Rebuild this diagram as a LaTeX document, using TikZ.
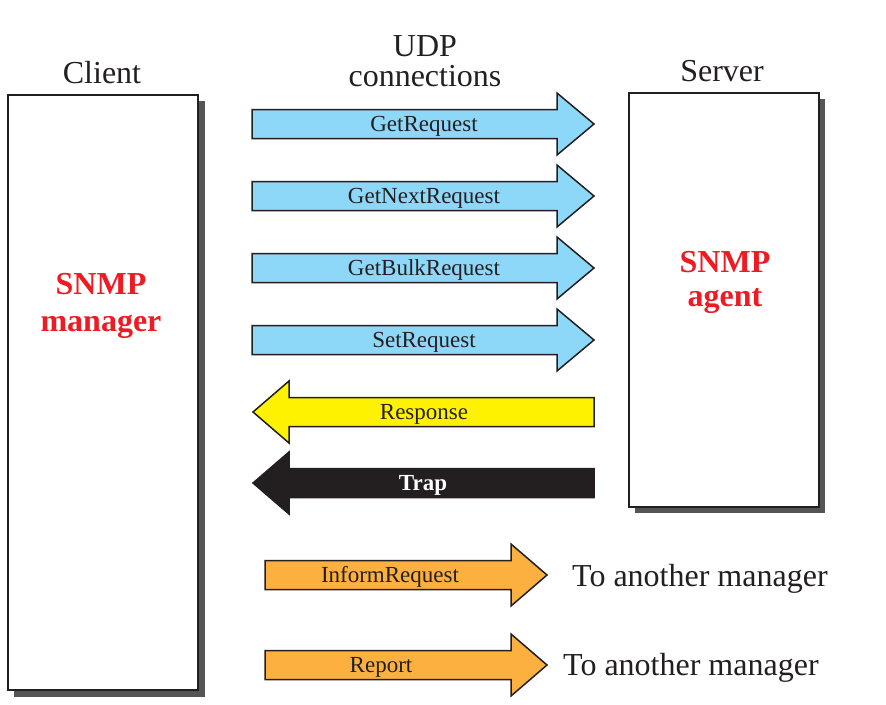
\documentclass[tikz,border=0pt]{standalone}
\usepackage{fontspec}
\setmainfont{Liberation Serif}
\definecolor{ink}{HTML}{231F20}
\definecolor{sky}{HTML}{8DD8F8}
\definecolor{lemon}{HTML}{FFF200}
\definecolor{amber}{HTML}{FBB040}
\definecolor{shadowgray}{HTML}{555555}
\definecolor{snmpred}{HTML}{ED1C24}
\newcommand{\rightarr}[5]{%
  \draw[arrowline, fill=#5] (#1,#4-14.5) -- (#2,#4-14.5) -- (#2,#4-31) -- (#3,#4)
    -- (#2,#4+31) -- (#2,#4+14.5) -- (#1,#4+14.5) -- cycle;}
\newcommand{\leftarr}[5]{%
  \draw[arrowline, fill=#5] (#1,#4-14.5) -- (#2,#4-14.5) -- (#2,#4-31) -- (#3,#4)
    -- (#2,#4+31) -- (#2,#4+14.5) -- (#1,#4+14.5) -- cycle;}
\begin{document}
\begin{tikzpicture}[x=1pt,y=-1pt,line join=miter,
  arrowline/.style={draw=ink, line width=1.5pt},
  dropshadow/.style={fill=shadowgray, draw=none},
  hostbox/.style={draw=ink, line width=2pt, fill=white, inner sep=0pt, outer sep=0pt, anchor=north west},
  bigtext/.style={font=\fontsize{32}{36}\selectfont, text=ink, inner sep=0pt, anchor=base},
  redtext/.style={font=\fontsize{32}{36}\selectfont\bfseries, text=snmpred, inner sep=0pt, anchor=base},
  lbl/.style={font=\fontsize{23}{26}\selectfont, text=ink, inner sep=0pt, anchor=base}]
\useasboundingbox (0,0) rectangle (886,704);
% client box
\path[dropshadow] (14,101) rectangle (205,697);
\node[hostbox, minimum width=190pt, minimum height=595pt] (client) at (8,95) {};
% server box
\path[dropshadow] (635,99) rectangle (825,513);
\node[hostbox, minimum width=190pt, minimum height=414pt] (server) at (629,93) {};
% headings
\node[bigtext] (clienttitle) at (102,83) {Client};
\node[bigtext] (udp1) at (425,56) {UDP};
\node[bigtext] (udp2) at (425,86) {connections};
\node[bigtext] (servertitle) at (722,81) {Server};
% red labels
\node[redtext] (snmpm1) at (101,294) {SNMP};
\node[redtext] (snmpm2) at (101,331) {manager};
\node[redtext] (snmpa1) at (725,272) {SNMP};
\node[redtext] (snmpa2) at (725,306) {agent};
% request arrows
\rightarr{252}{557}{594}{124}{sky}
\node[lbl] (getreq) at (424,131) {GetRequest};
\rightarr{252}{557}{594}{196}{sky}
\node[lbl] (getnext) at (424,203) {GetNextRequest};
\rightarr{252}{557}{594}{268}{sky}
\node[lbl] (getbulk) at (424,275) {GetBulkRequest};
\rightarr{252}{557}{594}{340}{sky}
\node[lbl] (setreq) at (424,347) {SetRequest};
% response and trap
\leftarr{594}{289}{253}{412}{lemon}
\node[lbl] (resp) at (424,419) {Response};
\leftarr{594}{289}{253}{483}{ink}
\node[lbl, text=white, font=\fontsize{23}{26}\selectfont\bfseries] (trap) at (423,490) {Trap};
% inform and report
\rightarr{265}{511}{547}{575}{amber}
\node[lbl] (inform) at (390,582) {InformRequest};
\rightarr{265}{511}{547}{665}{amber}
\node[lbl] (report) at (381,672) {Report};
\node[bigtext, anchor=base west] (other1) at (572,586) {To another manager};
\node[bigtext, anchor=base west] (other2) at (563,675) {To another manager};
\end{tikzpicture}
\end{document}
